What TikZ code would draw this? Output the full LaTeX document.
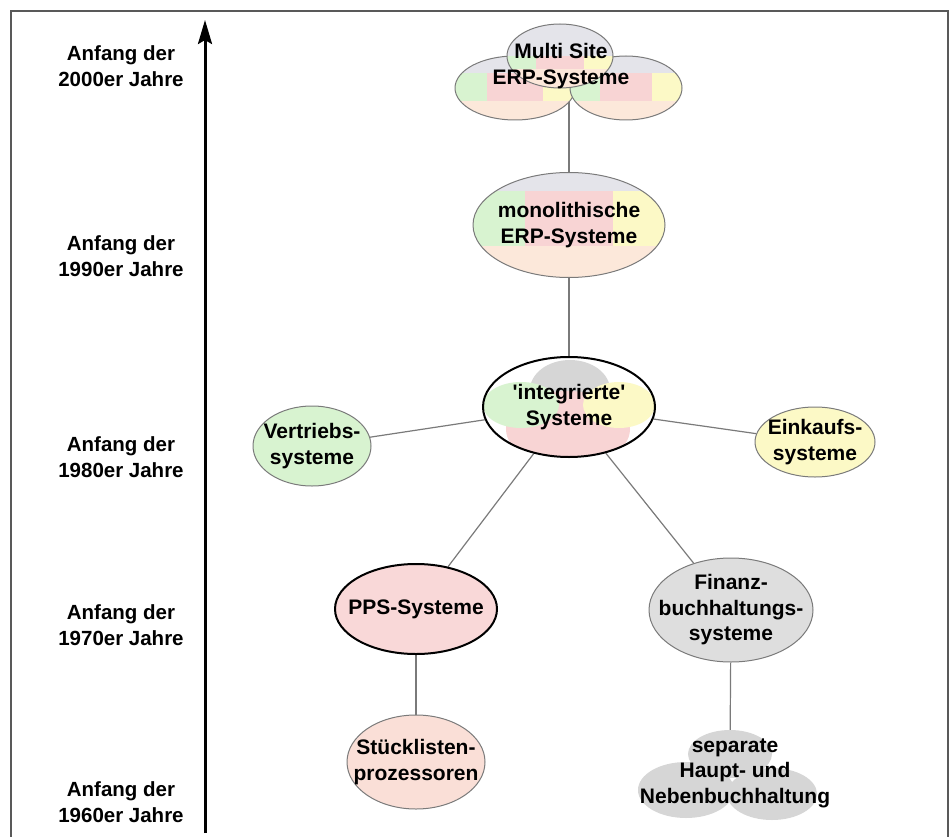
\documentclass[tikz,border=0pt]{standalone}
\usepackage{fontspec}
\setmainfont{Liberation Sans}
\usetikzlibrary{arrows.meta, positioning, shapes.geometric, backgrounds, calc}

\definecolor{tgray}{HTML}{E4E4EA}
\definecolor{tgreen}{HTML}{D8F3D0}
\definecolor{tred}{HTML}{F8D4D4}
\definecolor{tyellow}{HTML}{FCF9C6}
\definecolor{tpeach}{HTML}{FCE8DA}
\definecolor{bgray}{HTML}{D6D6D6}
\definecolor{rimgray}{HTML}{7A7A7A}

% one coloured tile inside a node, given as fractions (left, top, right, bottom)
\newcommand\tile[5]{%
  \fill[#1] let \p1=(path picture bounding box.north west),
                \p2=(path picture bounding box.south east) in
    ({\x1+#2*(\x2-\x1)},{\y1+#3*(\y2-\y1)}) rectangle
    ({\x1+#4*(\x2-\x1)},{\y1+#5*(\y2-\y1)});}

\begin{document}
\begin{tikzpicture}[
    x=1pt, y=-1pt,
    sys/.style={ellipse, draw=rimgray, line width=1pt, fill=white, align=center,
      inner sep=-25pt, font=\fontsize{21}{25.5}\selectfont\bfseries},
    strong/.style={draw=black, line width=2pt},
    txt/.style={align=center, inner sep=0pt, font=\fontsize{21}{25.5}\selectfont\bfseries},
    era/.style={txt, font=\fontsize{20.5}{26}\selectfont\bfseries},
    blob/.style={ellipse, fill=bgray, inner sep=0pt},
    link/.style={draw=rimgray, line width=1.2pt},
    mosaic/.style={path picture={
        \tile{tgray}{0}{0}{1}{#1}
        \tile{tgreen}{0}{#1}{0.27}{0.7}
        \tile{tred}{0.27}{#1}{0.73}{0.7}
        \tile{tyellow}{0.73}{#1}{1}{0.7}
        \tile{tpeach}{0}{0.7}{1}{1}}},
    mosaic/.default=0.18,
    blobs/.style={path picture={
        \fill[bgray] (path picture bounding box.center) ++(1,-17) ellipse [x radius=40, y radius=30];
        \fill[tred] (path picture bounding box.center) ++(-1,22) ellipse [x radius=62, y radius=38];
        \fill[tgreen] (path picture bounding box.center) ++(-48,-2) ellipse [x radius=38, y radius=23];
        \fill[tyellow] (path picture bounding box.center) ++(50,-2) ellipse [x radius=36, y radius=23];}}
]
\useasboundingbox (0,0) rectangle (952,837);
\draw[line width=1.5pt, black!65] (11,837) -- (11,11) -- (948,11) -- (948,837);

% time axis
\coordinate (ax0) at (205,833);
\coordinate (ax1) at (205,20);
\draw[line width=3pt, -{Stealth[length=24pt, width=14pt, inset=4pt]}] (ax0) -- (ax1);

\node[era] (e2000) at (121,66) {Anfang der\\2000er Jahre};
\node[era] (e1990) at (121,256) {Anfang der\\1990er Jahre};
\node[era] (e1980) at (121,457) {Anfang der\\1980er Jahre};
\node[era] (e1970) at (121,625) {Anfang der\\1970er Jahre};
\node[era] (e1960) at (121,802) {Anfang der\\1960er Jahre};

% systems
\node[sys, mosaic=0.27, minimum width=120, minimum height=64] (msl) at (515,88) {};
\node[sys, mosaic=0.27, minimum width=112, minimum height=64] (msr) at (626,88) {};
\node[sys, mosaic=0.5, minimum width=106, minimum height=64] (ms) at (560,56) {};
\node[txt] (mst) at (561,66) {Multi Site\\ERP-Systeme};

\node[sys, mosaic, minimum width=192, minimum height=105] (mono) at (569,225) {monolithische\\ERP-Systeme};
\node[sys, strong, blobs, minimum width=172, minimum height=100] (integ) at (569,407) {\textquotesingle integrierte\textquotesingle\\Systeme};
\node[sys, fill=tgreen, minimum width=118, minimum height=80] (vert) at (312,446) {Vertriebs-\\systeme};
\node[sys, fill=tyellow, minimum width=120, minimum height=70] (eink) at (815,442) {Einkaufs-\\systeme};
\node[sys, strong, fill=tred!90, minimum width=162, minimum height=90] (pps) at (416,609) {PPS-Systeme};
\node[sys, fill=tpeach!55!tred, minimum width=138, minimum height=94] (stk) at (416,762) {Stücklisten-\\prozessoren};
\node[sys, fill=bgray!80, minimum width=164, minimum height=104] (fin) at (731,610) {Finanz-\\buchhaltungs-\\systeme};

\node[blob, minimum width=84, minimum height=48] (sep) at (730,754) {};
\node[blob, minimum width=96, minimum height=56] (sepl) at (686,790) {};
\node[blob, minimum width=90, minimum height=52] (sepr) at (772,794) {};
\node[txt] (sept) at (735,773) {separate\\Haupt- und\\Nebenbuchhaltung};

\begin{scope}[on background layer]
  \draw[link] (mono) -- (mono |- ms);
  \draw[link] (mono) -- (integ);
  \draw[link] (integ) -- (vert);
  \draw[link] (integ) -- (eink);
  \draw[link] (integ) -- (pps);
  \draw[link] (integ) -- (fin);
  \draw[link] (pps) -- (stk);
  \draw[link] (fin) -- (sep);
\end{scope}
\end{tikzpicture}
\end{document}
